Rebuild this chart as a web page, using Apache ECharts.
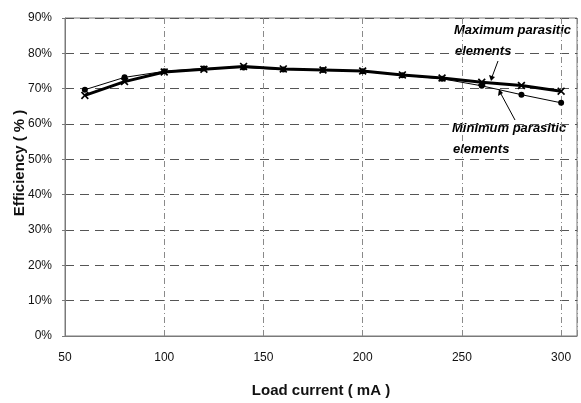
<!DOCTYPE html>
<html>
<head>
<meta charset="utf-8">
<script src="https://cdn.jsdelivr.net/npm/echarts@6/dist/echarts.min.js"></script>
<style>
html,body{margin:0;padding:0;background:#fff;}
#c{width:581px;height:403px;}
</style>
</head>
<body>
<div id="c"></div>
<script>
// Data
var loadCurrent = [60, 80, 100, 120, 140, 160, 180, 200, 220, 240, 260, 280, 300];
var maxParasitic = [68.1, 72.0, 74.7, 75.5, 76.3, 75.6, 75.3, 75.0, 73.9, 73.0, 71.8, 70.9, 69.3];
var minParasitic = [69.7, 73.2, 74.9, 75.7, 76.0, 75.4, 75.3, 74.9, 73.8, 72.8, 70.8, 68.3, 66.0];
var xTicks = [50, 100, 150, 200, 250, 300];
var yTicks = [0, 10, 20, 30, 40, 50, 60, 70, 80, 90];

function pairs(xs, ys) { return xs.map(function (x, i) { return [x, ys[i]]; }); }

var sans = '"Liberation Sans", Arial, sans-serif';
var crossPath = 'path://M0,1.5L1.5,0L5,3.5L8.5,0L10,1.5L6.5,5L10,8.5L8.5,10L5,6.5L1.5,10L0,8.5L3.5,5Z';

var chart = echarts.init(document.getElementById('c'), null, { renderer: 'canvas' });
chart.setOption({
  animation: false,
  backgroundColor: '#ffffff',
  grid: {
    left: 65, right: 4, top: 18, bottom: 65,
    show: true, borderColor: '#7a7a7a', borderWidth: 1
  },
  xAxis: {
    type: 'value',
    min: xTicks[0], max: 308, interval: 50,
    name: 'Load current ( mA )',
    nameLocation: 'middle', nameGap: 47,
    nameTextStyle: { fontFamily: sans, fontWeight: 'bold', fontSize: 15, color: '#111' },
    axisLine: { show: true, lineStyle: { color: '#7a7a7a', width: 1 } },
    axisTick: { show: false },
    axisLabel: {
      margin: 16, fontFamily: sans, fontSize: 12, color: '#111',
      showMaxLabel: false,
      formatter: function (v) { return xTicks.indexOf(v) >= 0 ? String(v) : ''; }
    },
    splitLine: { show: true, lineStyle: { color: '#8a8a8a', width: 1, type: [6, 3, 1, 3] } }
  },
  yAxis: {
    type: 'value',
    min: yTicks[0], max: yTicks[yTicks.length - 1], interval: 10,
    axisLine: { show: true, lineStyle: { color: '#7a7a7a', width: 1 } },
    axisTick: { show: true, length: 3, lineStyle: { color: '#7a7a7a' } },
    axisLabel: {
      margin: 13, fontFamily: sans, fontSize: 12, color: '#111',
      formatter: function (v) { return v + '%'; }
    },
    splitLine: { show: true, lineStyle: { color: '#555', width: 1, type: [9, 6] } }
  },
  series: [
    {
      name: 'Minimum parasitic elements',
      type: 'line',
      data: pairs(loadCurrent, minParasitic),
      symbol: 'circle', symbolSize: 6,
      lineStyle: { color: '#000', width: 1 },
      itemStyle: { color: '#000' },
      z: 2
    },
    {
      name: 'Maximum parasitic elements',
      type: 'line',
      data: pairs(loadCurrent, maxParasitic),
      symbol: crossPath, symbolSize: 8,
      lineStyle: { color: '#000', width: 3 },
      itemStyle: { color: '#000' },
      z: 3
    }
  ],
  graphic: [
    {
      type: 'text', x: 20, y: 163, rotation: Math.PI / 2,
      style: {
        text: 'Efficiency ( % )', fontFamily: sans,
        fontWeight: 'bold', fontSize: 15, fill: '#111', align: 'center', verticalAlign: 'middle'
      }
    },
    {
      type: 'text', x: 454, y: 30,
      style: { text: 'Maximum parasitic', font: 'italic bold 13px ' + sans, fill: '#000', verticalAlign: 'middle' }
    },
    {
      type: 'text', x: 455, y: 51,
      style: { text: 'elements', font: 'italic bold 13px ' + sans, fill: '#000', verticalAlign: 'middle' }
    },
    {
      type: 'text', x: 452, y: 128,
      style: { text: 'Minimum parasitic', font: 'italic bold 13px ' + sans, fill: '#000', verticalAlign: 'middle' }
    },
    {
      type: 'text', x: 453, y: 149,
      style: { text: 'elements', font: 'italic bold 13px ' + sans, fill: '#000', verticalAlign: 'middle' }
    },
    { type: 'line', shape: { x1: 498, y1: 61, x2: 492, y2: 77 }, style: { stroke: '#000', lineWidth: 1 } },
    { type: 'polygon', shape: { points: [[489, 75], [495, 77], [491, 81]] }, style: { fill: '#000' } },
    { type: 'line', shape: { x1: 515, y1: 120, x2: 501, y2: 94 }, style: { stroke: '#000', lineWidth: 1 } },
    { type: 'polygon', shape: { points: [[498, 96], [503, 93], [499, 89]] }, style: { fill: '#000' } }
  ]
});
</script>
</body>
</html>
